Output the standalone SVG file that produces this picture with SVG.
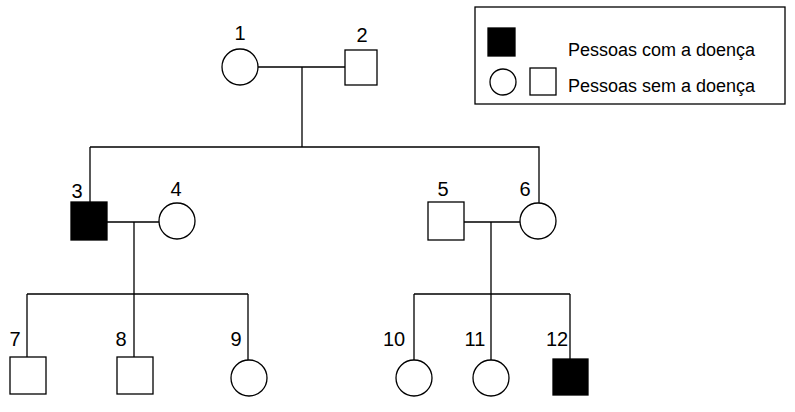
<svg xmlns="http://www.w3.org/2000/svg" width="795" height="412" viewBox="0 0 795 412">
<style>
.s{fill:#fff;stroke:#000;stroke-width:1.3}
.a{fill:#000;stroke:#000;stroke-width:1.3}
.l{stroke:#000;stroke-width:1.3;fill:none}
text{font-family:"Liberation Sans",Arial,sans-serif;font-size:20px;fill:#000}
.g{font-size:18px}
</style>
<rect width="795" height="412" fill="#fff"/>
<g id="connectors" class="l">
<path d="M258 67H345M302 67V147M90 147H539V203M90 147V202"/>
<path d="M107 222H159M134 222V294M27 294H248M27 294V357M134 294V357M248 294V360"/>
<path d="M464 222H520M491 222V294M414 294H570M414 294V360M491 294V360M570 294V359"/>
</g>
<g id="n1"><circle class="s" cx="240" cy="67" r="18"/><text x="240" y="40" text-anchor="middle">1</text></g>
<g id="n2"><rect class="s" x="345" y="50" width="32" height="35"/><text x="362" y="42" text-anchor="middle">2</text></g>
<g id="n3"><rect class="a" x="71" y="202" width="36" height="38"/><text x="77" y="198" text-anchor="middle">3</text></g>
<g id="n4"><circle class="s" cx="177" cy="221" r="18"/><text x="176" y="196" text-anchor="middle">4</text></g>
<g id="n5"><rect class="s" x="428" y="202" width="36" height="38"/><text x="443" y="196" text-anchor="middle">5</text></g>
<g id="n6"><circle class="s" cx="538" cy="221" r="18"/><text x="525" y="196" text-anchor="middle">6</text></g>
<g id="n7"><rect class="s" x="10" y="357" width="36" height="37"/><text x="15" y="346" text-anchor="middle">7</text></g>
<g id="n8"><rect class="s" x="117" y="357" width="36" height="37"/><text x="121" y="346" text-anchor="middle">8</text></g>
<g id="n9"><circle class="s" cx="249" cy="378" r="18"/><text x="236" y="346" text-anchor="middle">9</text></g>
<g id="n10"><circle class="s" cx="414" cy="378" r="18"/><text x="394" y="346" text-anchor="middle">10</text></g>
<g id="n11"><circle class="s" cx="491" cy="378" r="18"/><text x="475" y="346" text-anchor="middle">11</text></g>
<g id="n12"><rect class="a" x="553" y="359" width="35" height="36"/><text x="557" y="346" text-anchor="middle">12</text></g>
<g id="legend">
<rect class="s" x="475" y="7" width="310" height="97"/>
<rect class="a" x="488" y="28" width="27" height="28"/>
<circle class="s" cx="503" cy="82" r="13"/>
<rect class="s" x="530" y="68" width="26" height="27"/>
<text class="g" x="568" y="56">Pessoas com a doença</text>
<text class="g" x="568" y="92">Pessoas sem a doença</text>
</g>
</svg>
